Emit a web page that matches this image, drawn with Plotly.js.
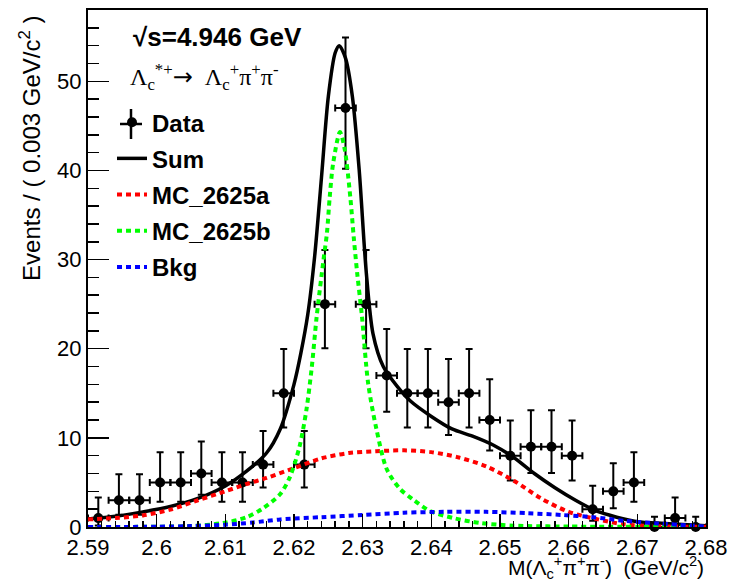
<!DOCTYPE html>
<html>
<head>
<meta charset="utf-8">
<script src="https://cdn.plot.ly/plotly-3.0.1.min.js"></script>
<style>html,body{margin:0;padding:0;background:#fff;}#chart{width:730px;height:584px;}</style>
</head>
<body>
<div id="chart"></div>
<script>
// ---- data ----
const binCenters = [2.5915, 2.5945, 2.5975, 2.6005, 2.6035, 2.6065, 2.6095, 2.6125, 2.6155, 2.6185,
                    2.6215, 2.6245, 2.6275, 2.6305, 2.6335, 2.6365, 2.6395, 2.6425, 2.6455, 2.6485,
                    2.6515, 2.6545, 2.6575, 2.6605, 2.6635, 2.6665, 2.6695, 2.6725, 2.6755, 2.6785];
const counts     = [1, 3, 3, 5, 5, 6, 5, 5, 7, 15,
                    7, 25, 47, 25, 17, 15, 15, 14, 15, 12,
                    8, 9, 9, 8, 2, 4, 5, 0, 1, 0];
const errUp      = [2.30, 2.92, 2.92, 3.38, 3.38, 3.58, 3.38, 3.38, 3.77, 4.97,
                    3.77, 6.07, 7.91, 6.07, 5.21, 4.97, 4.97, 4.84, 4.97, 4.57,
                    3.95, 4.11, 4.11, 3.95, 2.64, 3.16, 3.38, 1.15, 2.30, 1.15];
const errDown    = [0.83, 1.63, 1.63, 2.16, 2.16, 2.38, 2.16, 2.16, 2.58, 3.83,
                    2.58, 4.96, 6.82, 4.96, 4.08, 3.83, 3.83, 3.69, 3.83, 3.41,
                    2.77, 2.94, 2.94, 2.77, 1.29, 1.91, 2.16, 0.00, 0.83, 0.00];
const binHalfWidth = 0.0015;

const sumX = [2.590, 2.594, 2.598, 2.602, 2.606, 2.610, 2.613, 2.616, 2.618, 2.620, 2.621, 2.622, 2.623, 2.624, 2.625, 2.626, 2.6266, 2.6275, 2.6285, 2.6295, 2.6305, 2.6315, 2.633, 2.635, 2.637, 2.640, 2.643, 2.646, 2.649, 2.652, 2.655, 2.658, 2.661, 2.664, 2.667, 2.670, 2.674, 2.680];
const sumY = [0.9, 1.2, 1.7, 2.3, 3.2, 4.6, 6.2, 8.3, 11.0, 16.0, 19.5, 23.8, 30.3, 39.2, 48.3, 53.2, 54.0, 52.6, 48.3, 40.0, 28.8, 21.7, 18.0, 15.8, 14.1, 12.4, 11.0, 10.2, 9.2, 7.8, 6.0, 4.4, 3.0, 1.8, 1.1, 0.6, 0.4, 0.15];

const redX = [2.590, 2.594, 2.598, 2.602, 2.606, 2.610, 2.613, 2.616, 2.620, 2.624, 2.628, 2.632, 2.636, 2.640, 2.644, 2.648, 2.652, 2.656, 2.660, 2.664, 2.668, 2.672, 2.680];
const redY = [0.86, 1.0, 1.3, 1.95, 3.0, 4.0, 4.8, 5.5, 6.6, 7.7, 8.3, 8.5, 8.6, 8.4, 7.8, 6.8, 5.2, 3.2, 1.7, 0.9, 0.3, 0.1, 0.02];

const greenX = [2.590, 2.600, 2.605, 2.6097, 2.6131, 2.6155, 2.618, 2.6194, 2.6208, 2.6218, 2.6226, 2.6233, 2.6243, 2.6248, 2.6252, 2.6257, 2.6267, 2.6274, 2.6282, 2.6287, 2.6292, 2.6299, 2.6308, 2.632, 2.6335, 2.6354, 2.6373, 2.6398, 2.6432, 2.6471, 2.652, 2.660, 2.680];
const greenY = [0.0, 0.03, 0.1, 0.45, 1.1, 2.1, 3.7, 5.6, 9.0, 13.1, 18.0, 23.6, 30.0, 33.0, 37.0, 40.8, 44.3, 42.3, 37.0, 32.5, 28.5, 23.6, 16.1, 11.0, 6.5, 4.3, 3.1, 1.8, 1.0, 0.45, 0.15, 0.05, 0.02];

const blueX = [2.590, 2.600, 2.605, 2.610, 2.614, 2.618, 2.624, 2.630, 2.636, 2.642, 2.648, 2.654, 2.659, 2.6635, 2.668, 2.673, 2.680];
const blueY = [0.0, 0.03, 0.1, 0.25, 0.5, 0.85, 1.1, 1.35, 1.6, 1.7, 1.7, 1.55, 1.35, 1.1, 0.7, 0.4, 0.05];

const xTickVals = [2.59, 2.6, 2.61, 2.62, 2.63, 2.64, 2.65, 2.66, 2.67, 2.68];
const xTickText = ['2.59', '2.6', '2.61', '2.62', '2.63', '2.64', '2.65', '2.66', '2.67', '2.68'];

// ---- traces ----
const F = 'Liberation Sans, Arial, sans-serif';
const dashStyle = '5px,4px';
const traces = [
  {x: binCenters, y: counts, type: 'scatter', mode: 'markers', name: 'Data', legendgroup: 'a',
   cliponaxis: false,
   marker: {color: 'black', size: 10},
   error_y: {type: 'data', symmetric: false, array: errUp, arrayminus: errDown, color: 'black', thickness: 2, width: 3.5},
   error_x: {type: 'constant', value: binHalfWidth, color: 'black', thickness: 2, width: 3.5}},
  {x: sumX, y: sumY, type: 'scatter', mode: 'lines', name: 'Sum', legendgroup: 'b',
   line: {color: 'black', width: 3.5, shape: 'spline', smoothing: 0.8}},
  {x: redX, y: redY, type: 'scatter', mode: 'lines', name: 'MC_2625a', legendgroup: 'c',
   line: {color: '#ff0000', width: 4, dash: dashStyle, shape: 'spline', smoothing: 0.8}},
  {x: greenX, y: greenY, type: 'scatter', mode: 'lines', name: 'MC_2625b', legendgroup: 'd',
   line: {color: '#00ff00', width: 4, dash: dashStyle, shape: 'spline', smoothing: 0.8}},
  {x: blueX, y: blueY, type: 'scatter', mode: 'lines', name: 'Bkg', legendgroup: 'e',
   line: {color: '#0000ff', width: 4, dash: dashStyle, shape: 'spline', smoothing: 0.8}}
];

// helpers converting page pixels to paper fractions (plot area: x 88..706, y 10..527)
const px = v => (v - 88) / 618;
const py = v => (527 - v) / 517;

const layout = {
  width: 730, height: 584,
  margin: {l: 88, r: 24, t: 10, b: 57},
  paper_bgcolor: 'white', plot_bgcolor: 'white',
  font: {family: F, color: 'black'},
  showlegend: true,
  legend: {x: px(112), y: 0.8258, xanchor: 'left', yanchor: 'top',
           font: {family: F, size: 24, color: 'black', weight: 'bold'},
           bgcolor: 'rgba(0,0,0,0)', tracegroupgap: 2, itemwidth: 30},
  xaxis: {range: [2.59, 2.68], tickmode: 'array', tickvals: xTickVals, ticktext: xTickText,
          ticks: 'inside', ticklen: 13, tickwidth: 1.5, tickcolor: 'black',
          minor: {dtick: 0.002, tick0: 2.59, ticks: 'inside', ticklen: 6.5, tickwidth: 1.5, tickcolor: 'black'},
          showline: true, linecolor: 'black', linewidth: 2, mirror: true,
          showgrid: false, zeroline: false,
          tickfont: {family: F, size: 22, color: 'black'}},
  yaxis: {range: [0, 58], dtick: 10, tick0: 0,
          ticks: 'inside', ticklen: 21, tickwidth: 1.5, tickcolor: 'black',
          minor: {dtick: 2, ticks: 'inside', ticklen: 11, tickwidth: 1.5, tickcolor: 'black'},
          showline: true, linecolor: 'black', linewidth: 2, mirror: true,
          showgrid: false, zeroline: false,
          tickfont: {family: F, size: 22, color: 'black'}},
  shapes: [
    // error-bar cross of the "Data" legend glyph
    {type: 'line', xref: 'paper', yref: 'paper', x0: px(131), x1: px(131), y0: py(109), y1: py(139),
     line: {color: 'black', width: 2.5}, layer: 'above'},
    {type: 'line', xref: 'paper', yref: 'paper', x0: px(120), x1: px(142), y0: py(124), y1: py(124),
     line: {color: 'black', width: 2.5}, layer: 'above'}
  ],
  annotations: [
    {xref: 'paper', yref: 'paper', x: -0.094, y: 0.733, xanchor: 'center', yanchor: 'middle',
     textangle: -90, showarrow: false,
     text: 'Events / ( 0.003 GeV/c<sup>2</sup> )', font: {family: F, size: 24, color: 'black'}},
    {xref: 'paper', yref: 'paper', x: 1.0, y: py(568), xanchor: 'right', yanchor: 'middle',
     showarrow: false,
     text: 'M(Λ<sub>c</sub><sup>+</sup>π<sup>+</sup>π<sup>-</sup>)  (GeV/c<sup>2</sup>)', font: {family: F, size: 21, color: 'black'}},
    {xref: 'paper', yref: 'paper', x: px(131), y: py(37), xanchor: 'left', yanchor: 'middle',
     showarrow: false,
     text: '<b>√s=4.946 GeV</b>', font: {family: F, size: 26, color: 'black'}},
    {xref: 'paper', yref: 'paper', x: px(128), y: py(77), xanchor: 'left', yanchor: 'middle',
     showarrow: false,
     text: 'Λ<sub>c</sub><sup>*+</sup><span style="font-family:DejaVu Sans;font-size:24px">→</span>  Λ<sub>c</sub><sup>+</sup>π<sup>+</sup>π<sup>-</sup>',
     font: {family: 'Liberation Serif, Times New Roman, serif', size: 24, color: 'black'}}
  ]
};

Plotly.newPlot('chart', traces, layout, {staticPlot: true, displayModeBar: false});
</script>
</body>
</html>
